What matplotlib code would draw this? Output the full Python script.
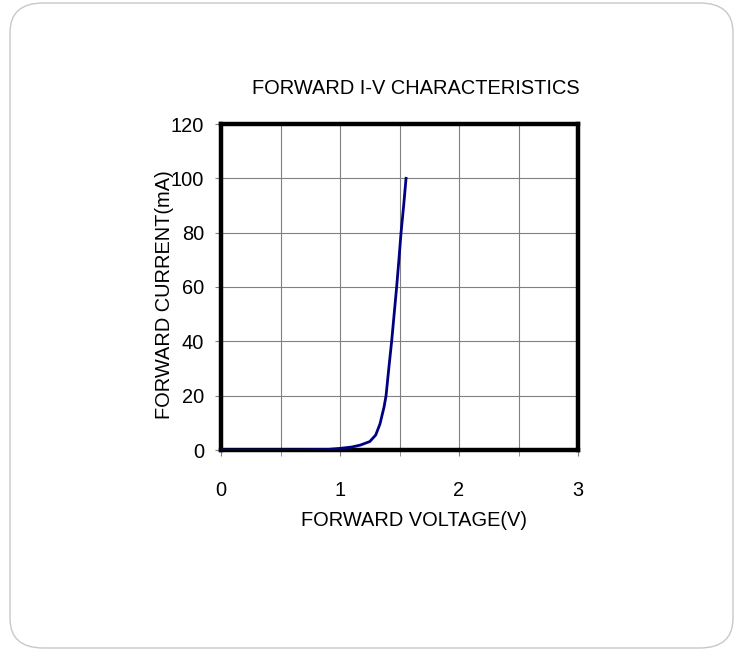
import numpy as np
import matplotlib.pyplot as plt
from matplotlib.patches import FancyBboxPatch

# forward voltage (V) and forward current (mA)
volts = [0.0, 0.6, 0.9, 1.0, 1.1, 1.17, 1.25, 1.3, 1.336, 1.37, 1.387,
         1.41, 1.434, 1.455, 1.476, 1.495, 1.513, 1.535, 1.555]
amps = [0.0, 0.0, 0.2, 0.6, 1.1, 1.8, 3.1, 5.5, 9.6, 15.8, 20.0,
        30.0, 40.0, 50.0, 60.0, 70.0, 80.0, 90.0, 100.0]

x_ticks = [0, 1, 2, 3]
y_ticks = [0, 20, 40, 60, 80, 100, 120]

plt.rcParams['font.family'] = ['Liberation Sans', 'DejaVu Sans']
fs = 14.4

fig = plt.figure(figsize=(7.4, 6.54), dpi=100)

# rounded frame around the slide
frame = FancyBboxPatch((10 / 740, 6 / 654), 723 / 740, 645 / 654,
                       boxstyle="round,pad=0,rounding_size=0.045",
                       transform=fig.transFigure, facecolor='none',
                       edgecolor='#c8c8c8', linewidth=1.0, zorder=0)
fig.patches.append(frame)

ax = fig.add_axes([221 / 740, 1 - 450 / 654, 357 / 740, 326 / 654])
ax.plot(volts, amps, color='#000080', linewidth=2.0, zorder=3,
        solid_joinstyle='round')

ax.set_xlim(0, 3)
ax.set_ylim(0, 120)
ax.set_xticks(x_ticks)
ax.set_xticks(np.arange(0, 3.01, 0.5), minor=True)
ax.set_yticks(y_ticks)
ax.grid(True, which='both', color='#808080', linewidth=0.8)
ax.tick_params(axis='both', which='both', direction='out', length=4,
               color='#808080', labelsize=fs)
ax.tick_params(axis='x', pad=18)
ax.tick_params(axis='y', pad=8)
for s in ax.spines.values():
    s.set_linewidth(3.2)
    s.set_color('black')

ax.set_xlabel('FORWARD VOLTAGE(V)', fontsize=fs, labelpad=8, x=0.54)
fig.text(165 / 740, 1 - 295 / 654, 'FORWARD CURRENT(mA)', rotation=90,
         fontsize=fs, ha='center', va='center')
fig.text(416 / 740, 1 - 89 / 654, 'FORWARD I-V CHARACTERISTICS',
         fontsize=fs, ha='center', va='center')

fig.savefig('out.png', dpi=100, facecolor='white')
